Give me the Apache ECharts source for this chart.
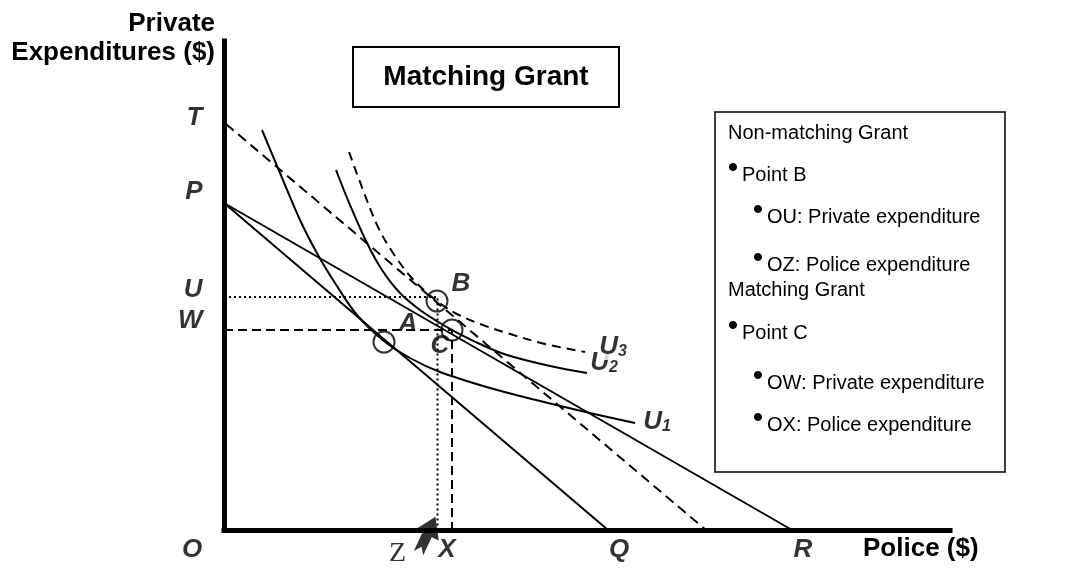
<!DOCTYPE html>
<html><head><meta charset="utf-8">
<script src="https://cdn.jsdelivr.net/npm/echarts/dist/echarts.min.js"></script>
<style>html,body{margin:0;padding:0;background:#fff}#c{width:1069px;height:571px}</style>
</head><body><div id="c"></div>
<script>
// ---------- data (economic diagram units) ----------
const budgetPQ = [[0, 327], [384, 0]];
const budgetPR = [[0, 327], [568, 0]];
const budgetTR = [[2, 406], [482, 0]];
const curveU1 = [[38,400],[56,357],[76,310],[94,275],[111,247],[133,215],[160,189],[186,172],[216,158],[266,142],[316,129],[366,117],[411,107]];
const curveU2 = [[112,360],[126,325],[143,287],[158,260],[176,237],[196,220],[216,207],[228,200],[256,186],[283,175],[326,164],[363,157]];
const curveU3 = [[125,378],[139,340],[154,303],[169,277],[186,254],[201,239],[213,229],[231,217],[256,206],[283,197],[321,186],[361,178]];
const guideU = [[0,233],[213.5,233],[213.5,0]];
const guideW = [[0,200],[228,200],[228,0]];
const pointNames = ['A','B','C'];
const pointValues = [[160,188],[213,229],[228,200]];
const yMarkNames = ['T','P','U','W'];
const yMarkValues = [406, 327, 233, 200];
const xMarkNames = ['O','Z','X','Q','R'];
const xMarkValues = [0, 213.5, 228, 384, 568];
const curveNames = ['U1','U2','U3'];
const legendLines = [
  ['Non-matching Grant', 0], ['Point B', 1], ['OU: Private expenditure', 2], ['OZ: Police expenditure', 2],
  ['Matching Grant', 0], ['Point C', 1], ['OW: Private expenditure', 2], ['OX: Police expenditure', 2]
];
const titleText = 'Matching Grant';
const yAxisTitle = ['Private', 'Expenditures ($)'];
const xAxisTitle = 'Police ($)';

// ---------- layout / style ----------
const FONT = '"Liberation Sans", Arial, sans-serif';
const SERIF = '"Liberation Serif", "Times New Roman", serif';
const labelFont = {fontFamily: FONT, fontSize: 26, fontWeight: 'bold', fontStyle: 'italic', color: '#000'};
const yOffsets = [-6, -11, -7, -9];
const xOffsets = [[-32,0],[-40,3],[-5,0],[11,0],[11,0]];
const pointOffsets = [[24,-18],[24,-17],[-12,16]];
const curveLabelOffsets = [[22,-1],[17,-10],[28,-5]];
const legendY = [133, 175, 217, 265, 290, 333, 383, 425];

function line(data, type, smooth, z) {
  return {type:'line', data, showSymbol:false, silent:true, smooth: smooth || false,
    z: z || 2, clip:false, lineStyle:{color:'#000', width:2, type: type || 'solid'}};
}

const labelItems = [];
yMarkNames.forEach((n,i)=>labelItems.push({value:[0,yMarkValues[i]],
  label:Object.assign({show:true, formatter:n, position:'left', distance:21, offset:[0,yOffsets[i]]}, labelFont)}));
xMarkNames.forEach((n,i)=>{
  const f = n === 'Z' ? {fontFamily: SERIF, fontSize: 28, fontWeight:'normal', fontStyle:'normal', color:'#000'} : labelFont;
  labelItems.push({value:[xMarkValues[i],0], label:Object.assign({show:true, formatter:n, position:'bottom', distance:6, offset:xOffsets[i]}, f)});
});
pointNames.forEach((n,i)=>labelItems.push({value:pointValues[i],
  label:Object.assign({show:true, formatter:n, position:'inside', offset:pointOffsets[i]}, labelFont)}));
const curveEnds = [curveU1, curveU2, curveU3].map(c=>c[c.length-1]);
curveNames.forEach((n,i)=>labelItems.push({value:curveEnds[i],
  label:Object.assign({show:true, formatter:'U{s|' + n.slice(1) + '}', position:'inside', offset:curveLabelOffsets[i],
    backgroundColor: i === 2 ? '#fff' : 'transparent',
    rich:{s:{fontFamily:FONT, fontSize:16, fontWeight:'bold', fontStyle:'italic', verticalAlign:'bottom', color:'#000'}}}, labelFont)}));

const graphic = [];
graphic.push({type:'text', x:215, y:24, style:{text:yAxisTitle[0], font:'bold 26px ' + FONT, fill:'#000', align:'right', verticalAlign:'middle', textAlign:'right', textVerticalAlign:'middle'}});
graphic.push({type:'text', x:215, y:53, style:{text:yAxisTitle[1], font:'bold 26px ' + FONT, fill:'#000', align:'right', verticalAlign:'middle', textAlign:'right', textVerticalAlign:'middle'}});
graphic.push({type:'text', x:863, y:549, style:{text:xAxisTitle, font:'bold 26px ' + FONT, fill:'#000', align:'left', verticalAlign:'middle', textAlign:'left', textVerticalAlign:'middle'}});
graphic.push({type:'rect', shape:{x:353, y:47, width:266, height:60}, style:{fill:'#fff', stroke:'#000', lineWidth:2}});
graphic.push({type:'text', x:486, y:77, style:{text:titleText, font:'bold 28px ' + FONT, fill:'#000', align:'center', verticalAlign:'middle', textAlign:'center', textVerticalAlign:'middle'}});
graphic.push({type:'rect', shape:{x:715, y:112, width:290, height:360}, style:{fill:'#fff', stroke:'#000', lineWidth:1.5}});
legendLines.forEach((l,i)=>{
  const lvl = l[1];
  const tx = lvl === 0 ? 728 : (lvl === 1 ? 742 : 767);
  if (lvl > 0) {
    graphic.push({type:'text', x: lvl === 1 ? 733 : 758, y: legendY[i] - 6, style:{text:'\u2022', font:'30px ' + FONT, fill:'#000', align:'center', verticalAlign:'middle', textAlign:'center', textVerticalAlign:'middle'}});
  }
  graphic.push({type:'text', x:tx, y:legendY[i], style:{text:l[0], font:'20px ' + FONT, fill:'#000', align:'left', verticalAlign:'middle', textAlign:'left', textVerticalAlign:'middle'}});
});

const chart = echarts.init(document.getElementById('c'), null, {renderer:'canvas'});
chart.setOption({
  animation:false,
  backgroundColor:'#fff',
  grid:{left:224, right:119, top:41, bottom:41},
  xAxis:{type:'value', min:0, max:726, axisLine:{show:true, onZero:false, lineStyle:{color:'#000', width:5, cap:'square'}}, axisTick:{show:false}, axisLabel:{show:false}, splitLine:{show:false}},
  yAxis:{type:'value', min:0, max:489, axisLine:{show:true, onZero:false, lineStyle:{color:'#000', width:5, cap:'square'}}, axisTick:{show:false}, axisLabel:{show:false}, splitLine:{show:false}},
  graphic: graphic,
  series:[
    line(budgetPQ),
    line(budgetPR),
    line(budgetTR, [10,6]),
    line(guideU, [2,3]),
    line(guideW, [9,5]),
    line(curveU1, 'solid', 0.35),
    line(curveU2, 'solid', 0.35),
    line(curveU3, [9,6], 0.35),
    {type:'scatter', data:pointValues, symbol:'circle', symbolSize:21, silent:true, z:5,
      itemStyle:{color:'rgba(0,0,0,0)', borderColor:'#000', borderWidth:2}},
    {type:'scatter', data:[[203,-5]], symbol:'path://M15,0 L30,20 L21,20 L21,40 L15,33 L9,40 L9,20 L0,20 Z', symbolSize:[26,40], symbolRotate:-25, symbolKeepAspect:false, clip:false, silent:true, z:6,
      itemStyle:{color:'#000'}},
    {type:'scatter', data:labelItems, symbolSize:1, clip:false, silent:true, z:7, itemStyle:{color:'rgba(0,0,0,0)'}}
  ]
});
</script></body></html>
